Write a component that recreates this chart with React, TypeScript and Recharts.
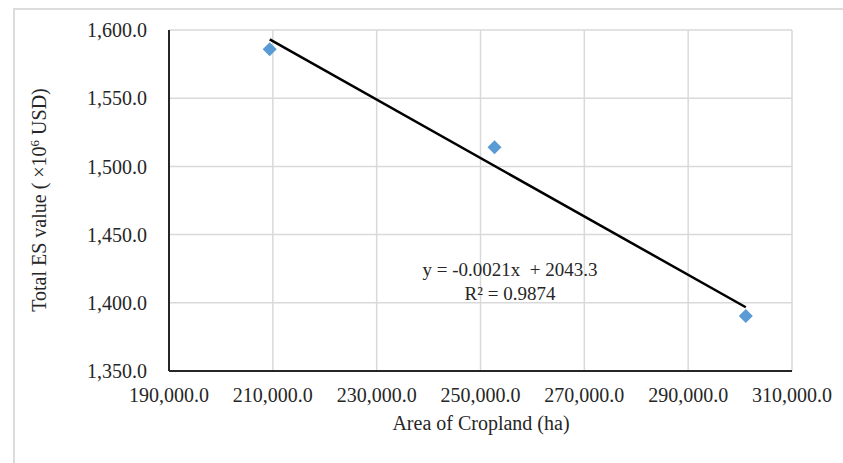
import { ScatterChart, Scatter, XAxis, YAxis, CartesianGrid } from "recharts";

const areaHa = [209400, 252700, 301100];
const esValue = [1585.9, 1514.0, 1390.3];
const xTicks = [190000, 210000, 230000, 250000, 270000, 290000, 310000];
const yTicks = [1350, 1400, 1450, 1500, 1550, 1600];

const points = areaHa.map((x, i) => ({ x, y: esValue[i] }));

// linear least-squares trend, drawn across the data range like Excel does
function fitTrend() {
  const n = areaHa.length;
  const mx = areaHa.reduce((a, v) => a + v, 0) / n;
  const my = esValue.reduce((a, v) => a + v, 0) / n;
  let sxy = 0;
  let sxx = 0;
  areaHa.forEach((x, i) => {
    sxy += (x - mx) * (esValue[i] - my);
    sxx += (x - mx) * (x - mx);
  });
  const slope = sxy / sxx;
  const icpt = my - slope * mx;
  const lo = Math.min(...areaHa);
  const hi = Math.max(...areaHa);
  return [
    { x: lo, y: icpt + slope * lo },
    { x: hi, y: icpt + slope * hi },
  ];
}
const trend = fitTrend();

const FONT = "'Liberation Serif', 'Times New Roman', serif";
const INK = "#262626";
const fmt = (v: number) => v.toLocaleString("en-US", { minimumFractionDigits: 1, maximumFractionDigits: 1 });

/* eslint-disable @typescript-eslint/no-explicit-any */
function Diamond(props: any) {
  const { cx, cy } = props;
  if (cx == null || cy == null) return null;
  const r = 7;
  return <polygon points={`${cx},${cy - r} ${cx + r},${cy} ${cx},${cy + r} ${cx - r},${cy}`} fill="#5b9bd5" />;
}

function YTitle() {
  return (
    <text x={46} y={200} transform="rotate(-90 46 200)" textAnchor="middle" fontFamily={FONT} fontSize={20} fill={INK}>
      Total ES value ( ×10<tspan baselineShift="super" fontSize={13}>6</tspan> USD)
    </text>
  );
}

function XTitle() {
  return (
    <text x={481} y={430} textAnchor="middle" fontFamily={FONT} fontSize={20} fill={INK}>
      Area of Cropland (ha)
    </text>
  );
}
/* eslint-enable @typescript-eslint/no-explicit-any */

export default function App() {
  return (
    <div style={{ position: "fixed", left: 0, top: 0, width: 843, height: 463, background: "#fff" }}>
      <div
        style={{
          position: "absolute",
          left: 13,
          top: 8,
          right: -4,
          bottom: -4,
          borderTop: "2px solid #dcdcdc",
          borderLeft: "2px solid #dcdcdc",
        }}
      />
      <ScatterChart width={843} height={463} margin={{ top: 30, right: 51, bottom: 32, left: 0 }}>
        <CartesianGrid stroke="#d9d9d9" strokeWidth={1.5} />
        <XAxis
          type="number"
          dataKey="x"
          domain={[190000, 310000]}
          ticks={xTicks}
          tickFormatter={fmt}
          height={60}
          tickLine={false}
          tickSize={0}
          tickMargin={17}
          axisLine={{ stroke: INK, strokeWidth: 2 }}
          tick={{ fill: INK, fontSize: 20, fontFamily: FONT }}
          label={{ content: () => <XTitle /> }}
        />
        <YAxis
          type="number"
          dataKey="y"
          domain={[1350, 1600]}
          ticks={yTicks}
          tickFormatter={fmt}
          width={169}
          tickLine={false}
          tickSize={0}
          tickMargin={22}
          axisLine={{ stroke: INK, strokeWidth: 2 }}
          tick={{ fill: INK, fontSize: 20, fontFamily: FONT }}
          label={{ content: () => <YTitle /> }}
        />
        <Scatter data={trend} line={{ stroke: "#000", strokeWidth: 2.5 }} shape={() => null} isAnimationActive={false} />
        <Scatter data={points} shape={<Diamond />} isAnimationActive={false} />
      </ScatterChart>
      <div
        style={{
          position: "absolute",
          left: 410,
          top: 258,
          width: 200,
          textAlign: "center",
          fontFamily: FONT,
          fontSize: 19,
          lineHeight: "24px",
          color: INK,
          whiteSpace: "pre",
        }}
      >
        {"y = -0.0021x  + 2043.3\nR² = 0.9874"}
      </div>
    </div>
  );
}
